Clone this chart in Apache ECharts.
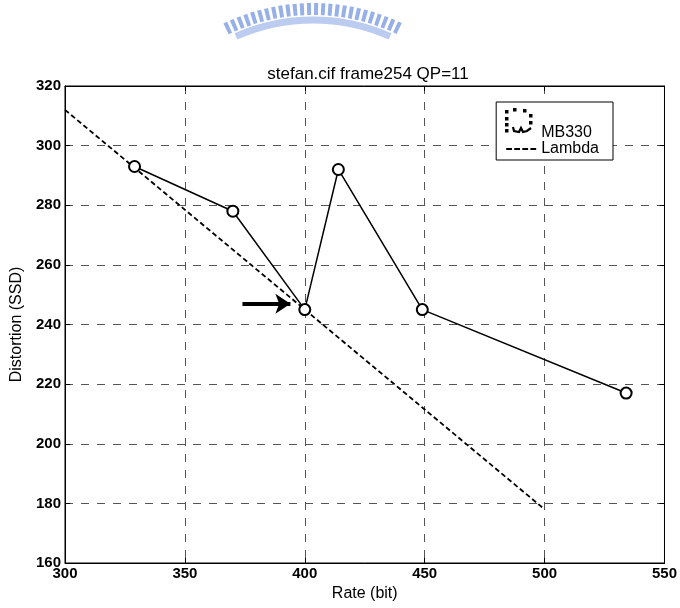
<!DOCTYPE html>
<html>
<head>
<meta charset="utf-8">
<script src="https://cdn.jsdelivr.net/npm/echarts@6/dist/echarts.min.js"></script>
<style>
  html, body { margin: 0; padding: 0; background: #fff; }
  #chart { width: 680px; height: 608px; }
</style>
</head>
<body>
<div id="chart"></div>
<script>
// MB330 rate / distortion points
const mbRate = [329, 370, 400, 414, 449, 534]
const mbDist = [293, 278, 245, 292, 245, 217]
// Lambda line end points
const lambdaRate = [300, 500]
const lambdaDist = [312, 178]
// arrow pointing at the chosen point
const arrowRate = [374, 394]
const arrowDist = [247, 247]

const xTicks = { min: 300, max: 550, interval: 50 }
const yTicks = { min: 160, max: 320, interval: 20 }

const font = 'Arial, "Liberation Sans", sans-serif'

const chart = echarts.init(document.getElementById('chart'))

const gridLine = {
  show: true,
  lineStyle: { color: '#555', type: [8, 8], width: 1 }
}

const tickLabel = {
  color: '#000',
  fontFamily: font,
  fontWeight: 'bold',
  fontSize: 15
}

const inTick = { show: true, inside: true, length: 5, lineStyle: { color: '#000' } }

// the odd dotted marker MATLAB printed in the legend
const dots = [
  [505, 110], [513, 108], [523, 109], [529, 114], [529, 121],
  [505, 117], [505, 123], [505, 129]
].map(p => ({
  type: 'rect',
  shape: { x: p[0], y: p[1], width: 3.5, height: 3.5 },
  style: { fill: '#000' },
  z: 100
}))

chart.setOption({
  animation: false,
  backgroundColor: '#fff',
  title: {
    text: 'stefan.cif frame254 QP=11',
    left: 363,
    top: 61,
    textAlign: 'center',
    textStyle: { fontFamily: font, fontWeight: 'normal', fontSize: 17, color: '#000' }
  },
  graphic: [
    {
      // faded logo at the top of the page
      type: 'arc',
      shape: { cx: 313, cy: 209, r: 200, startAngle: -Math.PI / 2 - 0.45, endAngle: -Math.PI / 2 + 0.45 },
      style: { stroke: '#98b0e8', lineWidth: 12, fill: null, lineDash: [4, 3] },
      silent: true
    },
    {
      type: 'arc',
      shape: { cx: 313, cy: 209, r: 189, startAngle: -Math.PI / 2 - 0.42, endAngle: -Math.PI / 2 + 0.42 },
      style: { stroke: '#bccbf0', lineWidth: 7, fill: null },
      silent: true
    },
    ...dots,
    {
      type: 'polyline',
      shape: { points: [[513, 127], [514, 131], [519, 132], [521, 128], [523, 132], [527, 131], [531, 128]] },
      style: { stroke: '#000', lineWidth: 2.2, fill: null },
      z: 100
    }
  ],
  legend: {
    orient: 'vertical',
    right: 67,
    top: 102,
    padding: [23, 14, 3, 10],
    itemGap: 0,
    itemWidth: 30,
    itemHeight: 14,
    borderColor: '#000',
    borderWidth: 1,
    backgroundColor: '#fff',
    textStyle: { fontFamily: font, fontSize: 16, color: '#000' },
    data: [
      { name: 'MB330', icon: 'rect', itemStyle: { color: 'rgba(0,0,0,0)', borderWidth: 0 } },
      { name: 'Lambda', icon: 'path://M0,0h5v1.6h-5zM7,0h5v1.6h-5zM14,0h5v1.6h-5zM21,0h5v1.6h-5z' }
    ]
  },
  grid: {
    left: 65,
    right: 15,
    top: 86,
    bottom: 45,
    show: true,
    borderColor: '#000',
    borderWidth: 1
  },
  xAxis: [
    {
      type: 'value',
      min: xTicks.min,
      max: xTicks.max,
      interval: xTicks.interval,
      name: 'Rate (bit)',
      nameLocation: 'middle',
      nameGap: 21,
      nameTextStyle: { fontFamily: font, fontSize: 16, color: '#000' },
      axisLine: { show: true, lineStyle: { color: '#000', width: 1 } },
      axisTick: inTick,
      axisLabel: Object.assign({ margin: 3 }, tickLabel),
      splitLine: gridLine
    },
    {
      type: 'value',
      position: 'top',
      min: xTicks.min,
      max: xTicks.max,
      interval: xTicks.interval,
      axisLine: { show: true, lineStyle: { color: '#000' } },
      axisTick: inTick,
      axisLabel: { show: false },
      splitLine: { show: false }
    }
  ],
  yAxis: [
    {
      type: 'value',
      min: yTicks.min,
      max: yTicks.max,
      interval: yTicks.interval,
      name: 'Distortion (SSD)',
      nameLocation: 'middle',
      nameGap: 39,
      nameTextStyle: { fontFamily: font, fontSize: 16, color: '#000' },
      axisLine: { show: true, lineStyle: { color: '#000', width: 1 } },
      axisTick: inTick,
      axisLabel: Object.assign({ margin: 4 }, tickLabel),
      splitLine: gridLine
    },
    {
      type: 'value',
      position: 'right',
      min: yTicks.min,
      max: yTicks.max,
      interval: yTicks.interval,
      axisLine: { show: true, lineStyle: { color: '#000' } },
      axisTick: inTick,
      axisLabel: { show: false },
      splitLine: { show: false }
    }
  ],
  series: [
    {
      name: 'MB330',
      type: 'line',
      data: mbRate.map((r, i) => [r, mbDist[i]]),
      symbol: 'emptyCircle',
      symbolSize: 11,
      itemStyle: { color: '#000', borderColor: '#000', borderWidth: 1.4 },
      lineStyle: { color: '#000', width: 1.5 },
      z: 3
    },
    {
      name: 'Lambda',
      type: 'line',
      data: lambdaRate.map((r, i) => [r, lambdaDist[i]]),
      symbol: 'none',
      itemStyle: { color: '#000' },
      lineStyle: { color: '#000', width: 1.8, type: [5, 3] },
      z: 2
    },
    {
      name: 'arrow',
      type: 'lines',
      coordinateSystem: 'cartesian2d',
      symbol: ['none', 'arrow'],
      symbolSize: 15,
      lineStyle: { color: '#000', width: 4, opacity: 1 },
      data: [{ coords: arrowRate.map((r, i) => [r, arrowDist[i]]) }],
      z: 4
    }
  ]
})
</script>
</body>
</html>
